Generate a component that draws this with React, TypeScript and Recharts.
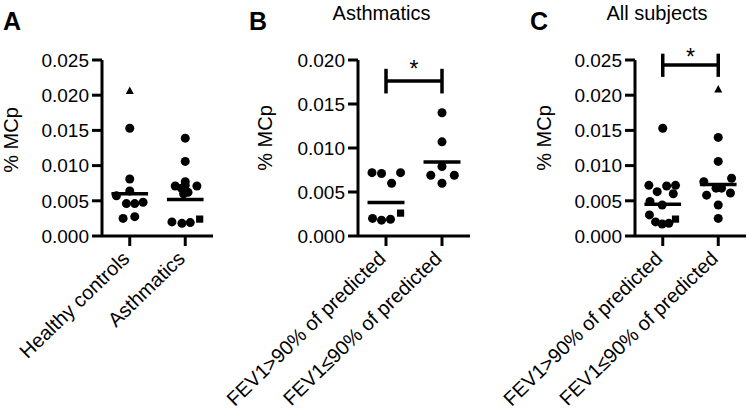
import React from 'react';
import { ScatterChart, Scatter, XAxis, YAxis, ReferenceLine, ReferenceDot } from 'recharts';

const FONT = 'Liberation Sans, Arial, Helvetica, sans-serif';

type Pt = { x: number; y: number };

// Categories / tick labels
const labelsA = ['Healthy controls', 'Asthmatics'];
const labelsFev = ['FEV1>90% of predicted', 'FEV1≤90% of predicted'];
const ticksA = [0, 0.005, 0.01, 0.015, 0.02, 0.025];
const ticksB = [0, 0.005, 0.01, 0.015, 0.02];
const ticksC = [0, 0.005, 0.01, 0.015, 0.02, 0.025];

// Panel A (x = category index + jitter)
const aCircles: Pt[] = [
  { x: 1.0, y: 0.0153 }, { x: 1.0, y: 0.0081 }, { x: 0.76, y: 0.0057 }, { x: 1.0, y: 0.0064 },
  { x: 0.94, y: 0.0046 }, { x: 1.09, y: 0.0046 }, { x: 1.24, y: 0.0048 }, { x: 0.88, y: 0.0025 },
  { x: 1.09, y: 0.00275 },
  { x: 2.0, y: 0.0139 }, { x: 2.0, y: 0.0106 }, { x: 2.0, y: 0.0077 }, { x: 1.82, y: 0.0071 },
  { x: 2.21, y: 0.0071 }, { x: 2.0, y: 0.0072 }, { x: 1.93, y: 0.0068 }, { x: 1.97, y: 0.0060 },
  { x: 2.05, y: 0.0062 }, { x: 1.76, y: 0.0020 }, { x: 1.94, y: 0.0018 }, { x: 2.09, y: 0.0019 },
];
const aTriangles: Pt[] = [{ x: 1.0, y: 0.0206 }];
const aSquares: Pt[] = [{ x: 2.26, y: 0.0024 }];
const aMeans = [0.0060, 0.0052];

// Panel B
const bCircles: Pt[] = [
  { x: 0.75, y: 0.0072 }, { x: 0.92, y: 0.0071 }, { x: 1.1, y: 0.0060 }, { x: 1.26, y: 0.0072 },
  { x: 0.76, y: 0.0020 }, { x: 0.92, y: 0.0018 }, { x: 1.08, y: 0.0019 },
  { x: 2.0, y: 0.0140 }, { x: 2.0, y: 0.0107 }, { x: 2.0, y: 0.0079 }, { x: 1.8, y: 0.0069 },
  { x: 2.22, y: 0.0069 }, { x: 2.0, y: 0.0060 },
];
const bTriangles: Pt[] = [];
const bSquares: Pt[] = [{ x: 1.26, y: 0.0026 }];
const bMeans = [0.0038, 0.0084];
const bSig = [1, 2, 0.0176, 0.0162, 0.0190];

// Panel C
const cCircles: Pt[] = [
  { x: 1.0, y: 0.0153 }, { x: 0.75, y: 0.0072 }, { x: 0.9, y: 0.0063 }, { x: 1.07, y: 0.0071 },
  { x: 1.23, y: 0.0072 }, { x: 1.19, y: 0.0060 }, { x: 0.77, y: 0.0049 }, { x: 0.99, y: 0.0044 },
  { x: 0.76, y: 0.0030 }, { x: 0.87, y: 0.0020 }, { x: 0.99, y: 0.0017 }, { x: 1.11, y: 0.0018 },
  { x: 2.0, y: 0.0140 }, { x: 2.0, y: 0.0106 }, { x: 1.74, y: 0.0077 }, { x: 2.24, y: 0.0082 },
  { x: 1.79, y: 0.0058 }, { x: 1.96, y: 0.0068 }, { x: 2.06, y: 0.0068 }, { x: 2.22, y: 0.0061 },
  { x: 2.0, y: 0.0044 }, { x: 2.0, y: 0.0025 },
];
const cTriangles: Pt[] = [{ x: 2.0, y: 0.0208 }];
const cSquares: Pt[] = [{ x: 1.23, y: 0.0024 }];
const cMeans = [0.0045, 0.0073];
const cSig = [1, 2, 0.0243, 0.0226, 0.0259];

const CircleShape = (p: any) => <circle cx={p.cx} cy={p.cy} r={4.5} fill="#000" />;
const TriangleShape = (p: any) => (
  <polygon points={`${p.cx},${p.cy - 4.5} ${p.cx + 4},${p.cy + 3} ${p.cx - 4},${p.cy + 3}`} fill="#000" />
);
const SquareShape = (p: any) => <rect x={p.cx - 3.6} y={p.cy - 3.6} width={7.2} height={7.2} fill="#000" />;

const RotTick = (props: any) => {
  const { x, y, payload, labels } = props;
  const txt = labels[Math.round(payload.value) - 1];
  return (
    <text
      transform={`translate(${x + 1},${y + 14}) rotate(-44)`}
      textAnchor="end"
      fontSize={20}
      fontFamily={FONT}
      fill="#000"
    >
      {txt}
    </text>
  );
};

type PanelProps = {
  left: number;
  width: number;
  axisWidth: number;
  marginRight: number;
  yMax: number;
  yTicks: number[];
  labels: string[];
  circles: Pt[];
  triangles: Pt[];
  squares: Pt[];
  means: number[];
  sig?: number[];
  starOffset?: number;
};

function Panel(props: PanelProps) {
  const { left, width, axisWidth, marginRight, yMax, yTicks, labels, circles, triangles, squares, means, sig, starOffset } = props;
  const ax = { stroke: '#000', strokeWidth: 3 };
  return (
    <div style={{ position: 'absolute', left, top: 0 }}>
      <ScatterChart width={width} height={411} margin={{ top: 60, right: marginRight, bottom: 145, left: 0 }}>
        <XAxis
          type="number"
          dataKey="x"
          domain={[0.5, 2.5]}
          ticks={[1, 2]}
          interval={0}
          allowDataOverflow
          height={30}
          axisLine={ax}
          tickLine={ax}
          tickSize={10}
          tickMargin={0}
          tick={(p: any) => <RotTick {...p} labels={labels} />}
        />
        <YAxis
          type="number"
          dataKey="y"
          domain={[0, yMax]}
          ticks={yTicks}
          interval={0}
          allowDataOverflow
          width={axisWidth}
          axisLine={ax}
          tickLine={ax}
          tickSize={10}
          tickMargin={3}
          tickFormatter={(v: number) => v.toFixed(3)}
          tick={{ fill: '#000', fontSize: 19, fontFamily: FONT }}
        />
        <Scatter data={circles} isAnimationActive={false} shape={CircleShape} />
        {triangles.length > 0 && <Scatter data={triangles} isAnimationActive={false} shape={TriangleShape} />}
        {squares.length > 0 && <Scatter data={squares} isAnimationActive={false} shape={SquareShape} />}
        {means.map((m, i) => (
          <ReferenceLine
            key={'m' + i}
            segment={[{ x: i + 1 - 0.33, y: m }, { x: i + 1 + 0.33, y: m }]}
            stroke="#000"
            strokeWidth={3.5}
            ifOverflow="visible"
          />
        ))}
        {sig && (
          <ReferenceLine
            segment={[{ x: sig[0], y: sig[2] }, { x: sig[1], y: sig[2] }]}
            stroke="#000"
            strokeWidth={3.5}
            ifOverflow="visible"
          />
        )}
        {sig && (
          <ReferenceLine
            segment={[{ x: sig[0], y: sig[3] }, { x: sig[0], y: sig[4] }]}
            stroke="#000"
            strokeWidth={3.5}
            ifOverflow="visible"
          />
        )}
        {sig && (
          <ReferenceLine
            segment={[{ x: sig[1], y: sig[3] }, { x: sig[1], y: sig[4] }]}
            stroke="#000"
            strokeWidth={3.5}
            ifOverflow="visible"
          />
        )}
        {sig && (
          <ReferenceDot
            x={(sig[0] + sig[1]) / 2}
            y={sig[2]}
            r={0}
            fill="none"
            stroke="none"
            ifOverflow="visible"
            label={{ value: '*', position: 'top', offset: starOffset ?? 6, fontSize: 23, fontFamily: FONT, fill: '#000' }}
          />
        )}
      </ScatterChart>
    </div>
  );
}

export default function App() {
  const t = { fontFamily: FONT, fill: '#000' };
  return (
    <div style={{ position: 'absolute', left: 0, top: 0, width: 749, height: 411, background: '#fff', overflow: 'hidden' }}>
      <Panel left={0} width={250} axisWidth={102} marginRight={37} yMax={0.025} yTicks={ticksA} labels={labelsA}
        circles={aCircles} triangles={aTriangles} squares={aSquares} means={aMeans} />
      <Panel left={200} width={300} axisWidth={158} marginRight={30} yMax={0.02} yTicks={ticksB} labels={labelsFev}
        circles={bCircles} triangles={bTriangles} squares={bSquares} means={bMeans} sig={bSig} starOffset={4} />
      <Panel left={450} width={299} axisWidth={185} marginRight={3} yMax={0.025} yTicks={ticksC} labels={labelsFev}
        circles={cCircles} triangles={cTriangles} squares={cSquares} means={cMeans} sig={cSig} starOffset={0} />
      <svg width={749} height={411} style={{ position: 'absolute', left: 0, top: 0, pointerEvents: 'none' }}>
        <text x={3} y={30} fontSize={25} fontWeight="bold" {...t}>A</text>
        <text x={249} y={30} fontSize={25} fontWeight="bold" {...t}>B</text>
        <text x={530} y={30} fontSize={25} fontWeight="bold" {...t}>C</text>
        <text x={381.5} y={20} fontSize={20} textAnchor="middle" {...t}>Asthmatics</text>
        <text x={657} y={19.5} fontSize={20} textAnchor="middle" {...t}>All subjects</text>
        <text transform="translate(18,140) rotate(-90)" fontSize={20} textAnchor="middle" {...t}>% MCp</text>
        <text transform="translate(272,138) rotate(-90)" fontSize={20} textAnchor="middle" {...t}>% MCp</text>
        <text transform="translate(551,138) rotate(-90)" fontSize={20} textAnchor="middle" {...t}>% MCp</text>
      </svg>
    </div>
  );
}
